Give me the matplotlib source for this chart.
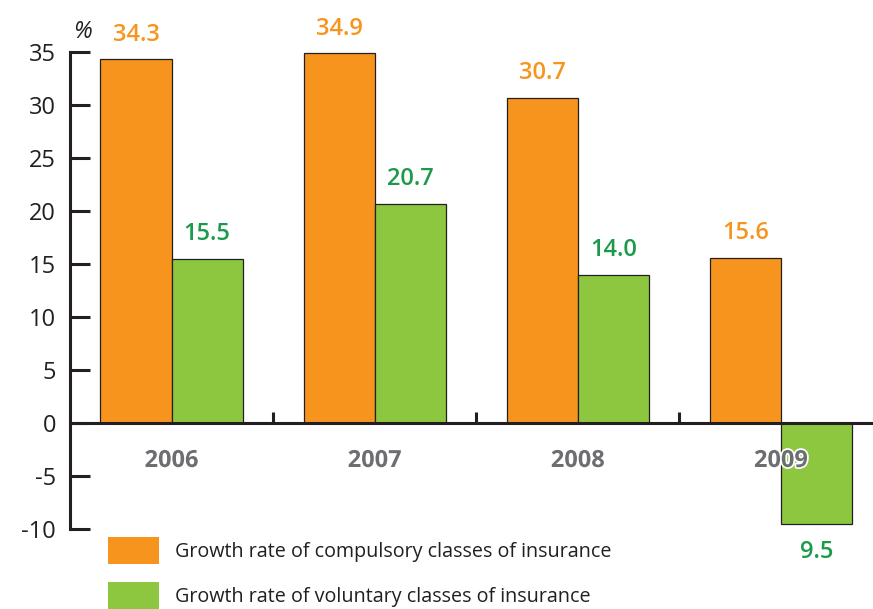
#!/usr/bin/env python3

import numpy as np
import matplotlib.pyplot as plt
import matplotlib.patheffects as pe
from matplotlib.patches import Patch

years = ["2006", "2007", "2008", "2009"]
compulsory = [34.3, 34.9, 30.7, 15.6]
voluntary = [15.5, 20.7, 14.0, -9.5]
labels = ["Growth rate of compulsory classes of insurance",
          "Growth rate of voluntary classes of insurance"]

ORANGE = "#F7941E"
GREEN = "#8DC63F"
GREEN_TXT = "#1B9A4A"
GRAY = "#6D6E71"
INK = "#231F20"

plt.rcParams["font.family"] = ["Open Sans", "DejaVu Sans"]
plt.rcParams["axes.unicode_minus"] = False

fig = plt.figure(figsize=(8.73, 6.09), dpi=100)
ax = fig.add_axes([70 / 873, 80 / 609, 803 / 873, 477 / 609])

x = np.arange(len(years))
w = 0.35
b1 = ax.bar(x - w / 2, compulsory, w, color=ORANGE, edgecolor=INK, linewidth=0.9)
b2 = ax.bar(x + w / 2, voluntary, w, color=GREEN, edgecolor=INK, linewidth=0.9)

ax.set_xlim(-0.5, 3.453)
ax.set_ylim(-10, 35)

for s in ["top", "right"]:
  ax.spines[s].set_visible(False)
ax.spines["left"].set_linewidth(2.2)
ax.spines["left"].set_color(INK)
ax.spines["bottom"].set_position(("data", 0))
ax.spines["bottom"].set_linewidth(2.2)
ax.spines["bottom"].set_color(INK)

ax.set_yticks(np.arange(-10, 36, 5))
ax.tick_params(axis="y", direction="in", length=14.5, width=2.2, color=INK,
               labelsize=17, labelcolor=INK, pad=10)
ax.set_xticks(x[:-1] + 0.5)
ax.set_xticklabels([])
ax.tick_params(axis="x", direction="in", length=8, width=2.2, color=INK)

for xi, yr in zip(x, years):
  t = ax.annotate(yr, (xi, 0), xytext=(0, -36), textcoords="offset points",
                  ha="center", va="bottom", fontsize=17, fontweight="bold",
                  color=GRAY, zorder=5)
  t.set_path_effects([pe.withStroke(linewidth=2.5, foreground="white")])

for bar, v in zip(b1, compulsory):
  ax.annotate(f"{v:.1f}", (bar.get_x() + bar.get_width() / 2, v),
              xytext=(0, 9), textcoords="offset points", ha="center",
              va="bottom", fontsize=17, fontweight="semibold", color=ORANGE)
for bar, v in zip(b2, voluntary):
  off = 9 if v >= 0 else -12
  ax.annotate(f"{abs(v):.1f}", (bar.get_x() + bar.get_width() / 2, v),
              xytext=(0, off), textcoords="offset points", ha="center",
              va="bottom" if v >= 0 else "top", fontsize=17,
              fontweight="semibold", color=GREEN_TXT)

ax.text(-0.44, 35.8, "%", fontsize=17, style="italic", color=INK,
        ha="center", va="bottom")

handles = [Patch(facecolor=ORANGE, edgecolor="none"),
           Patch(facecolor=GREEN, edgecolor="none")]
fig.legend(handles, labels, loc="lower left", bbox_to_anchor=(100 / 873, -8 / 609),
           frameon=False, fontsize=14.2, handlelength=2.59, handleheight=1.73,
           handletextpad=0.81, labelspacing=0.91, borderaxespad=0, labelcolor=INK)

plt.savefig("out.png", dpi=100)
